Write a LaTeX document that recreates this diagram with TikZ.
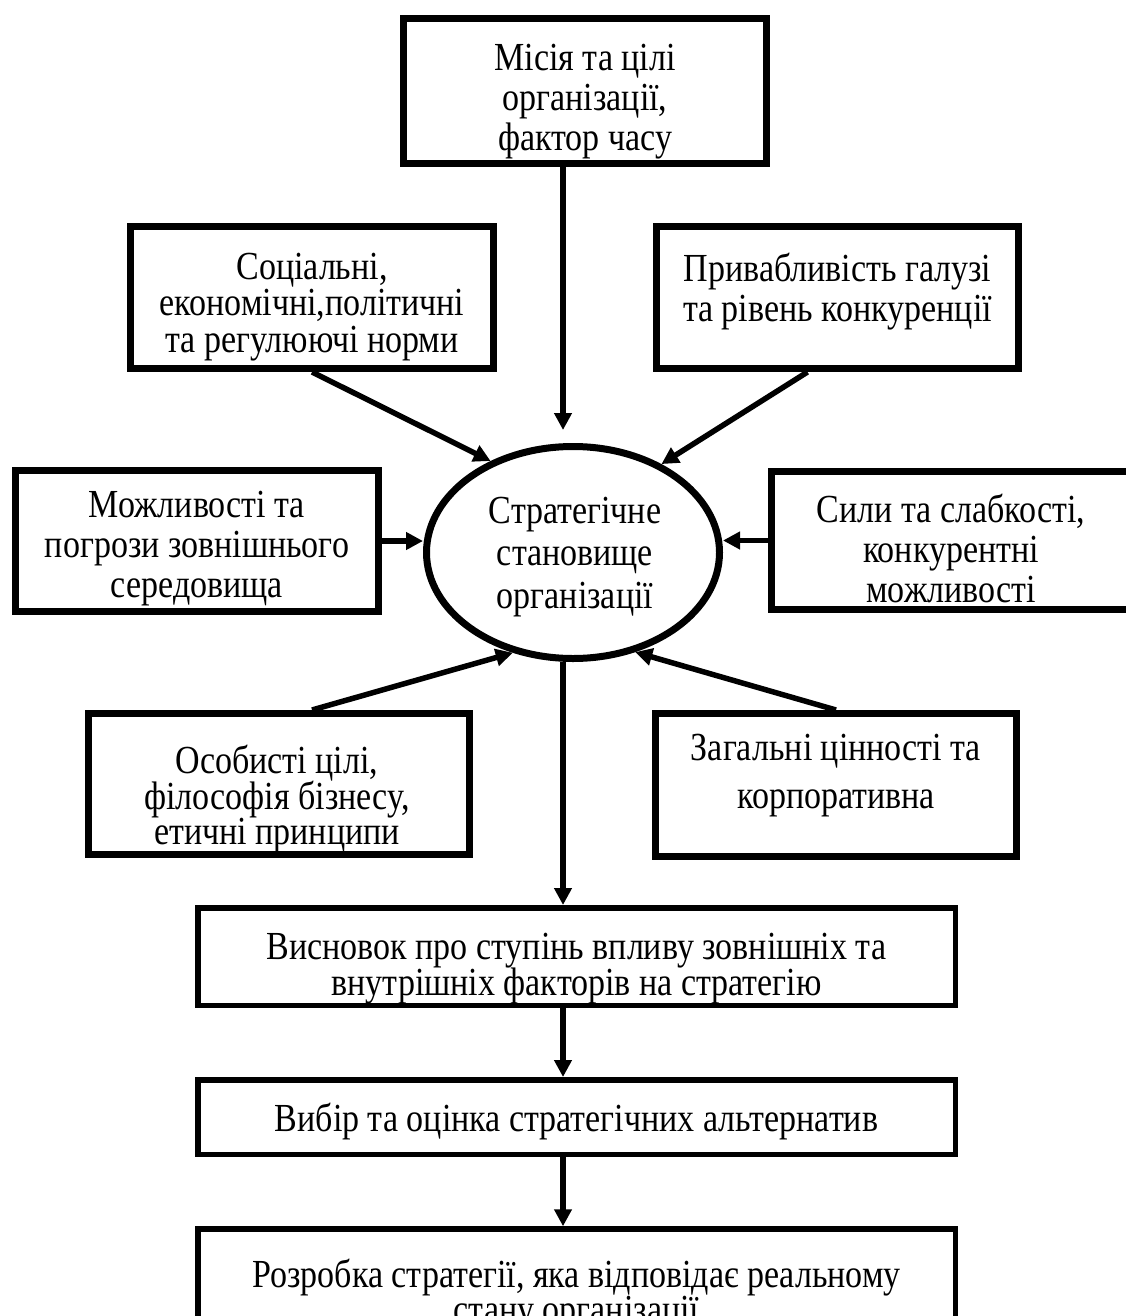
\documentclass[tikz,border=0pt]{standalone}
\usepackage{fontspec}
\setmainfont{Liberation Serif}
\usetikzlibrary{arrows.meta,shapes.geometric,calc}
\newcommand\myfs[1]{\fontsize{34}{#1}\selectfont\lineskiplimit=-\maxdimen}
\begin{document}
\begin{tikzpicture}[x=1pt,y=1pt,
  box/.style={draw, line width=7pt, rectangle, inner sep=0pt},
  lowbox/.style={draw, line width=5.5pt, rectangle, inner sep=0pt},
  txt/.style={align=center, inner sep=0pt, yscale=1.17},
  arr/.style={line width=5.5pt, -{Triangle[length=17pt,width=17pt]}},
]
\useasboundingbox (0,0) rectangle (1126,-1316);
% boxes
\node[box, minimum width=363pt, minimum height=145pt] (top)  at (585,-91) {};
\node[box, minimum width=363pt, minimum height=142pt] (soc)  at (312,-297.5) {};
\node[box, minimum width=362pt, minimum height=142pt] (priv) at (837.5,-297.5) {};
\node[box, minimum width=363pt, minimum height=141pt] (mozh) at (197,-541) {};
\node[box, minimum width=359pt, minimum height=138pt] (syly) at (951,-540.5) {};
\node[box, minimum width=381pt, minimum height=141pt] (osob) at (279,-784) {};
\node[box, minimum width=361pt, minimum height=143pt] (zag)  at (836,-785) {};
\node[lowbox, minimum width=757.5pt, minimum height=97.5pt]  (vys) at (576.5,-956.5) {};
\node[lowbox, minimum width=757.5pt, minimum height=74.5pt]  (vyb) at (576.5,-1117) {};
\node[lowbox, minimum width=757.5pt, minimum height=111pt]   (roz) at (576.5,-1284.5) {};
\node[draw, ellipse, line width=7pt, minimum width=293pt, minimum height=212pt,
      inner sep=0pt] (ell) at (573,-552.5) {};
% texts
\node[txt, font=\myfs{36}]   (t-ell)  at (575,-557) {Стратегічне\\становище\\організації};
\node[txt, font=\myfs{34.2}] (t-top)  at (585,-102) {Місія та цілі\\організації,\\фактор часу};
\node[txt, font=\myfs{31}]   (t-soc)  at (312,-307) {Соціальні,\\економічні,політичні\\та регулюючі норми};
\node[txt, font=\myfs{34.2}] (t-priv) at (837.5,-292) {Привабливість галузі\\та рівень конкуренції};
\node[txt, font=\myfs{34.2}] (t-mozh) at (197,-549) {Можливості та\\погрози зовнішнього\\середовища};
\node[txt, font=\myfs{34.2}] (t-syly) at (951,-548) {Сили та слабкості,\\конкурентні\\можливості};
\node[txt, font=\myfs{30.5}] (t-osob) at (277,-799) {Особисті цілі,\\філософія бізнесу,\\етичні принципи};
\node[txt, font=\myfs{41}]   (t-zag)  at (836,-776) {Загальні цінності та\\корпоративна};
\node[txt, font=\myfs{30.5}] (t-vys)  at (576.5,-968.5) {Висновок про ступінь впливу зовнішніх та\\внутрішніх факторів на стратегію};
\node[txt, font=\myfs{30}]   (t-vyb)  at (576.5,-1121) {Вибір та оцінка стратегічних альтернатив};
\node[txt, font=\myfs{30.5}] (t-roz)  at (576.5,-1295) {Розробка стратегії, яка відповідає реальному\\стану організації};
% connectors
\coordinate (spine) at (563,0);
\draw[arr] (top.south -| spine) -- ($(ell.north -| spine)+(0,13)$);
\draw[arr] (soc.south) -- (ell.132);
\draw[arr] ([xshift=-30pt]priv.south) -- (ell.45);
\draw[arr] (mozh.east) -- (mozh.east -| ell.west);
\draw[arr] (syly.west) -- (syly.west -| ell.east);
\draw[arr] ([xshift=33pt]osob.north) -- (ell.239);
\draw[arr] (zag.north) -- (ell.302);
\draw[arr] (ell.south -| spine) -- (vys.north -| spine);
\draw[arr] (vys.south -| spine) -- (vyb.north -| spine);
\draw[arr] (vyb.south -| spine) -- (roz.north -| spine);
\end{tikzpicture}
\end{document}
